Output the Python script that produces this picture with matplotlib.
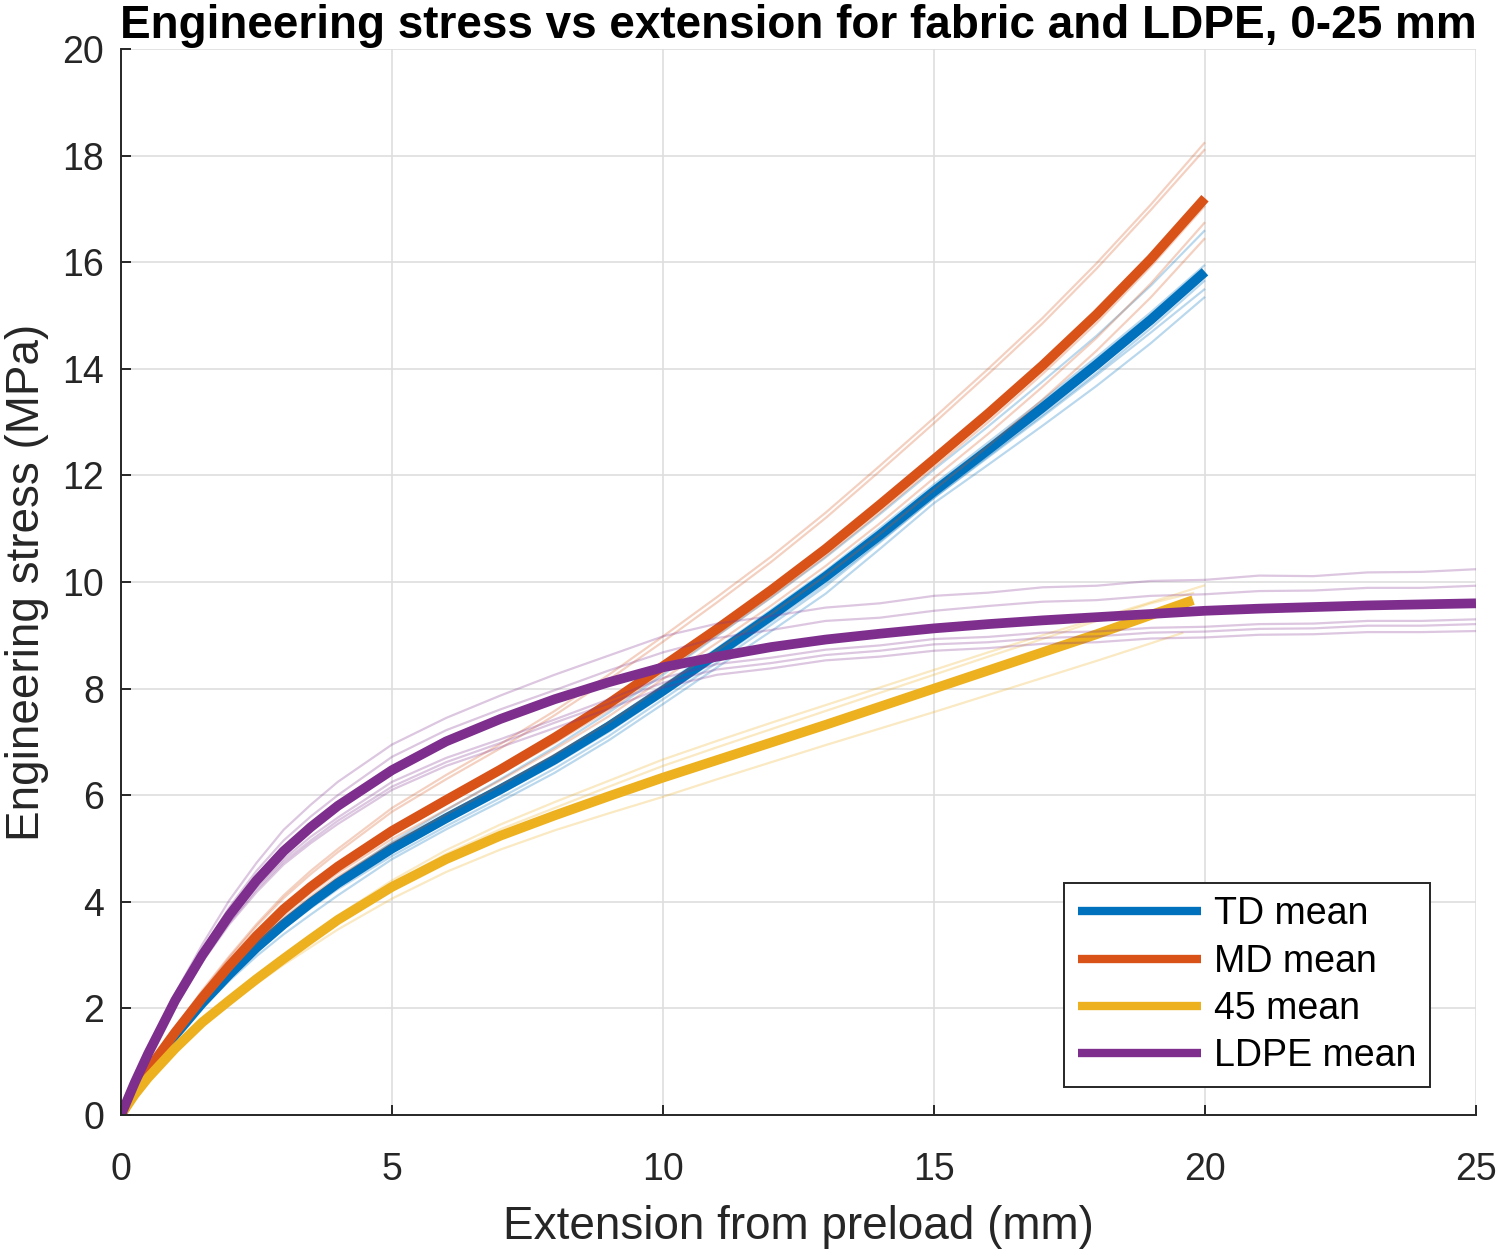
import numpy as np
import matplotlib
matplotlib.use('Agg')
import matplotlib.pyplot as plt

plt.rcParams['font.family'] = ['Liberation Sans', 'DejaVu Sans']

# ---- data ----
# fabric samples (TD, MD) share one extension grid
x_fab = [0, 0.25, 0.5, 1, 1.5, 2, 2.5, 3, 3.5, 4, 5, 6, 7, 8, 9, 10,
         11, 12, 13, 14, 15, 16, 17, 18, 19, 20]

td_mean = [0, 0.45, 0.83, 1.5, 2.1, 2.64, 3.14, 3.58, 3.98, 4.35, 5.0, 5.57, 6.11, 6.67, 7.29, 7.96,
           8.66, 9.37, 10.1, 10.88, 11.7, 12.48, 13.27, 14.08, 14.92, 15.82]
td_runs = [
    [0, 0.46, 0.85, 1.53, 2.14, 2.69, 3.2, 3.65, 4.06, 4.44, 5.12, 5.72, 6.3, 6.9, 7.55, 8.26,
     8.99, 9.71, 10.46, 11.27, 12.11, 12.92, 13.76, 14.62, 15.56, 16.6],
    [0, 0.45, 0.84, 1.51, 2.11, 2.65, 3.16, 3.6, 4.0, 4.38, 5.04, 5.62, 6.17, 6.74, 7.37, 8.06,
     8.76, 9.48, 10.21, 11.01, 11.83, 12.62, 13.41, 14.22, 15.06, 15.95],
    [0, 0.45, 0.82, 1.49, 2.08, 2.62, 3.11, 3.54, 3.93, 4.3, 4.93, 5.49, 6.03, 6.58, 7.19, 7.87,
     8.56, 9.26, 9.97, 10.76, 11.58, 12.36, 13.13, 13.92, 14.76, 15.66],
    [0, 0.44, 0.81, 1.47, 2.06, 2.59, 3.07, 3.5, 3.88, 4.24, 4.86, 5.42, 5.95, 6.5, 7.11, 7.8,
     8.49, 9.2, 9.92, 10.74, 11.58, 12.34, 13.1, 13.88, 14.68, 15.5],
    [0, 0.43, 0.79, 1.44, 2.01, 2.52, 2.98, 3.39, 3.76, 4.12, 4.8, 5.36, 5.88, 6.42, 7.03, 7.71,
     8.4, 9.08, 9.78, 10.62, 11.48, 12.2, 12.93, 13.68, 14.48, 15.35],
]

md_mean = [0, 0.45, 0.85, 1.55, 2.2, 2.8, 3.36, 3.86, 4.28, 4.66, 5.33, 5.91, 6.48, 7.08, 7.72, 8.42,
           9.12, 9.85, 10.62, 11.45, 12.3, 13.16, 14.06, 15.02, 16.06, 17.2]
md_runs = [
    [0, 0.47, 0.9, 1.64, 2.34, 2.98, 3.58, 4.12, 4.58, 4.99, 5.76, 6.38, 6.96, 7.58, 8.26, 8.98,
     9.72, 10.48, 11.3, 12.18, 13.08, 14.0, 14.95, 15.98, 17.08, 18.25],
    [0, 0.47, 0.89, 1.62, 2.31, 2.95, 3.54, 4.07, 4.52, 4.93, 5.69, 6.3, 6.88, 7.5, 8.17, 8.88,
     9.62, 10.38, 11.2, 12.08, 12.98, 13.9, 14.85, 15.88, 16.98, 18.12],
    [0, 0.45, 0.85, 1.54, 2.18, 2.78, 3.33, 3.82, 4.24, 4.62, 5.27, 5.83, 6.4, 6.98, 7.6, 8.3,
     9.0, 9.72, 10.48, 11.3, 12.15, 13.0, 13.9, 14.86, 15.92, 17.06],
    [0, 0.44, 0.84, 1.52, 2.16, 2.74, 3.28, 3.76, 4.17, 4.54, 5.18, 5.73, 6.28, 6.86, 7.48, 8.18,
     8.86, 9.56, 10.3, 11.1, 11.95, 12.78, 13.66, 14.58, 15.6, 16.75],
    [0, 0.44, 0.83, 1.5, 2.13, 2.7, 3.23, 3.7, 4.1, 4.47, 5.1, 5.64, 6.18, 6.76, 7.36, 8.05,
     8.72, 9.4, 10.12, 10.9, 11.73, 12.55, 13.42, 14.34, 15.34, 16.45],
]

# 45 degree samples end at slightly different extensions
x_45_mean = [0, 0.25, 0.5, 1, 1.5, 2, 2.5, 3, 3.5, 4, 5, 6, 7, 8, 9, 10,
             11, 12, 13, 14, 15, 16, 17, 18, 19, 19.78]
d45_mean = [0, 0.38, 0.7, 1.25, 1.74, 2.15, 2.55, 2.93, 3.3, 3.66, 4.28, 4.8, 5.24, 5.62, 5.98, 6.33,
            6.66, 6.99, 7.32, 7.66, 8.0, 8.34, 8.68, 9.02, 9.38, 9.66]
x_45_runs = [
    [0, 0.25, 0.5, 1, 1.5, 2, 2.5, 3, 3.5, 4, 5, 6, 7, 8, 9, 10,
     11, 12, 13, 14, 15, 16, 17, 18, 19, 20],
    [0, 0.25, 0.5, 1, 1.5, 2, 2.5, 3, 3.5, 4, 5, 6, 7, 8, 9, 10,
     11, 12, 13, 14, 15, 16, 17, 18, 19, 19.8],
    [0, 0.25, 0.5, 1, 1.5, 2, 2.5, 3, 3.5, 4, 5, 6, 7, 8, 9, 10,
     11, 12, 13, 14, 15, 16, 17, 18, 19, 19.6],
]
d45_runs = [
    [0, 0.39, 0.72, 1.28, 1.78, 2.2, 2.6, 2.99, 3.37, 3.74, 4.4, 4.97, 5.45, 5.87, 6.27, 6.67,
     7.02, 7.36, 7.69, 8.02, 8.35, 8.68, 9.0, 9.31, 9.62, 9.94],
    [0, 0.38, 0.71, 1.27, 1.76, 2.18, 2.58, 2.96, 3.34, 3.7, 4.34, 4.9, 5.36, 5.76, 6.16, 6.55,
     6.9, 7.24, 7.58, 7.92, 8.26, 8.6, 8.93, 9.27, 9.6, 9.8],
    [0, 0.37, 0.68, 1.22, 1.7, 2.1, 2.46, 2.82, 3.15, 3.48, 4.06, 4.56, 4.98, 5.34, 5.66, 5.97,
     6.3, 6.62, 6.94, 7.25, 7.56, 7.88, 8.2, 8.52, 8.85, 9.05],
]

# LDPE runs go on to 25 mm
x_ldpe = [0, 0.25, 0.5, 1, 1.5, 2, 2.5, 3, 3.5, 4, 5, 6, 7, 8, 9, 10,
          11, 12, 13, 14, 15, 16, 17, 18, 19, 20, 21, 22, 23, 24, 25]
ldpe_mean = [0, 0.6, 1.15, 2.15, 3.0, 3.75, 4.4, 4.95, 5.4, 5.8, 6.47, 7.01, 7.43, 7.8, 8.12, 8.4,
             8.6, 8.78, 8.92, 9.03, 9.13, 9.21, 9.28, 9.34, 9.4, 9.46, 9.5, 9.53, 9.56, 9.58, 9.6]
ldpe_runs = [
    [0, 0.64, 1.22, 2.28, 3.2, 4.03, 4.73, 5.35, 5.82, 6.25, 6.95, 7.45, 7.87, 8.26, 8.62, 8.98,
     9.22, 9.36, 9.52, 9.6, 9.74, 9.8, 9.9, 9.93, 10.02, 10.04, 10.12, 10.11, 10.18, 10.19, 10.24],
    [0, 0.62, 1.2, 2.21, 3.1, 3.9, 4.58, 5.15, 5.6, 6.0, 6.72, 7.22, 7.61, 7.97, 8.34, 8.68,
     8.95, 9.1, 9.27, 9.33, 9.46, 9.55, 9.63, 9.66, 9.74, 9.77, 9.83, 9.84, 9.89, 9.89, 9.93],
    [0, 0.59, 1.12, 2.1, 2.93, 3.66, 4.28, 4.8, 5.22, 5.58, 6.25, 6.7, 7.05, 7.42, 7.8, 8.2,
     8.46, 8.58, 8.73, 8.81, 8.93, 8.97, 9.05, 9.07, 9.14, 9.16, 9.21, 9.22, 9.27, 9.27, 9.3],
    [0, 0.58, 1.1, 2.08, 2.9, 3.61, 4.23, 4.75, 5.15, 5.52, 6.16, 6.62, 6.98, 7.36, 7.72, 8.11,
     8.36, 8.48, 8.63, 8.71, 8.83, 8.87, 8.95, 8.98, 9.05, 9.07, 9.12, 9.13, 9.18, 9.18, 9.21],
    [0, 0.58, 1.08, 2.06, 2.87, 3.58, 4.18, 4.7, 5.1, 5.46, 6.1, 6.55, 6.9, 7.26, 7.62, 8.02,
     8.26, 8.38, 8.53, 8.6, 8.71, 8.76, 8.84, 8.87, 8.94, 8.96, 9.01, 9.02, 9.06, 9.06, 9.08],
]

labels = ['TD mean', 'MD mean', '45 mean', 'LDPE mean']
colors = ['#0072BD', '#D95319', '#EDB120', '#7E2F8E']

# ---- plot ----
fig = plt.figure(figsize=(14.99, 12.49), dpi=100)
ax = fig.add_axes([121 / 1499, 134 / 1249, 1355 / 1499, 1066 / 1249])

groups = [
    ([x_fab] * len(td_runs), td_runs, x_fab, td_mean),
    ([x_fab] * len(md_runs), md_runs, x_fab, md_mean),
    (x_45_runs, d45_runs, x_45_mean, d45_mean),
    ([x_ldpe] * len(ldpe_runs), ldpe_runs, x_ldpe, ldpe_mean),
]

for (xr, runs, xm, ym), c, lab in zip(groups, colors, labels):
    for xx, yy in zip(xr, runs):
        ax.plot(xx, yy, color=c, alpha=0.27, lw=1.6, solid_capstyle='butt',
                solid_joinstyle='round')
    ax.plot(xm, ym, color=c, lw=7, label=lab, solid_capstyle='butt',
            solid_joinstyle='round')

ax.set_xlim(0, 25)
ax.set_ylim(0, 20)
ax.set_xticks(np.arange(0, 26, 5))
ax.set_yticks(np.arange(0, 21, 2))

ax.grid(True, color='#dedede', lw=1.2)
ax.set_axisbelow(True)
for s in ['top', 'right']:
    ax.spines[s].set_visible(False)
for s in ['left', 'bottom']:
    ax.spines[s].set_color('#262626')
    ax.spines[s].set_linewidth(1.4)

ax.tick_params(direction='in', length=7, width=1.4, colors='#262626', labelsize=27)
ax.tick_params(axis='x', pad=27)
ax.tick_params(axis='y', pad=12)

ax.set_xlabel('Extension from preload (mm)', fontsize=33, color='#262626', labelpad=12)
ax.set_ylabel('Engineering stress (MPa)', fontsize=33, color='#262626', labelpad=10)
ax.set_title('Engineering stress vs extension for fabric and LDPE, 0-25 mm',
             fontsize=33, fontweight='bold', color='black', pad=8)

leg = ax.legend(loc='lower right', bbox_to_anchor=(0.966, 0.026), borderaxespad=0,
                fontsize=27, handlelength=3.3, handletextpad=0.35, labelspacing=0.3,
                borderpad=0.35, fancybox=False, framealpha=1, edgecolor='#262626')
leg.get_frame().set_linewidth(1.4)
for line in leg.get_lines():
    line.set_linewidth(6)

fig.savefig('out.png', dpi=100)
